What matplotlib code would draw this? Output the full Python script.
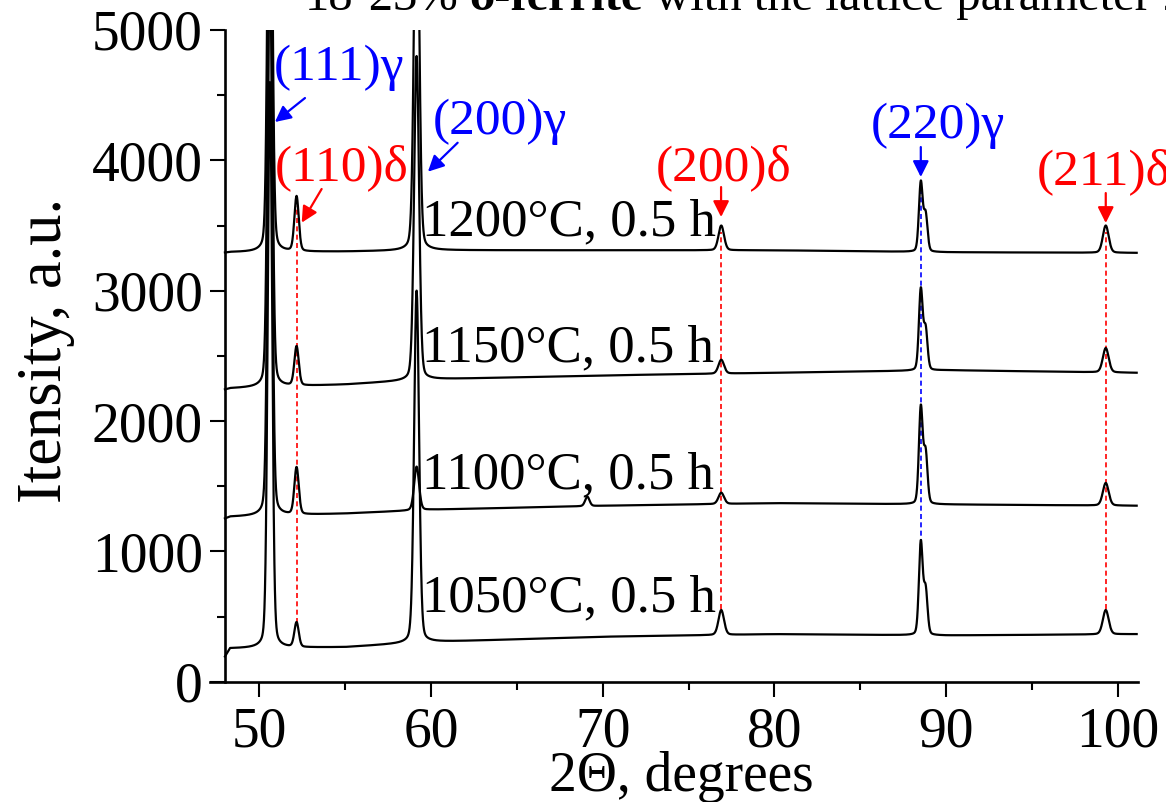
import numpy as np
import matplotlib
matplotlib.use('Agg')
import matplotlib.pyplot as plt

plt.rcParams['font.family'] = ['Liberation Serif', 'DejaVu Serif']

# labels of the four patterns (bottom to top)
temps = ['1050°C, 0.5 h', '1100°C, 0.5 h', '1150°C, 0.5 h', '1200°C, 0.5 h']

# background at these angles
base_x = [48.0, 48.3, 55, 60, 70, 80, 90, 101.1]
base_1050 = [190, 255, 265, 305, 345, 365, 355, 365]
base_1100 = [1250, 1265, 1290, 1320, 1350, 1370, 1360, 1350]
base_1150 = [2240, 2250, 2280, 2320, 2350, 2370, 2390, 2370]
base_1200 = [3290, 3295, 3300, 3310, 3310, 3310, 3295, 3290]

# reflections: (111)g, (110)d, (200)g, (200)d, (220)g, (220)g Ka2 shoulder, (211)d
peak_pos = [50.62, 52.17, 59.16, 76.9, 88.52, 88.8, 99.29]
peak_fwhm = [0.30, 0.30, 0.34, 0.38, 0.26, 0.26, 0.40]
# tip intensities (tips above 5000 are cut by the frame)
tips_1050 = [4600, 450, 3000, 550, 1064, 700, 550]
tips_1100 = [5600, 1640, 1650, 1450, 2100, 1750, 1525]
tips_1150 = [6500, 2568, 4800, 2470, 3005, 2700, 2560]
tips_1200 = [7500, 3719, 6500, 3500, 3826, 3580, 3500]

# weak extra bump on the 1100 pattern
bump_pos = 69.1
bump_tip = 1420

bases = [base_1050, base_1100, base_1150, base_1200]
tips = [tips_1050, tips_1100, tips_1150, tips_1200]

x = np.arange(48.0, 101.1, 0.01)


def profil(x, x0, w, eta=0.2):
    d = (x - x0) / (w / 2)
    return eta / (1 + d ** 2) + (1 - eta) * np.exp(-np.log(2) * d ** 2)


def widmo(baza, szczyty):
    y = np.interp(x, base_x, baza)
    for x0, w, t in zip(peak_pos, peak_fwhm, szczyty):
        y = y + (t - np.interp(x0, base_x, baza)) * profil(x, x0, w)
    return y


W, H = 1166, 802
fig = plt.figure(figsize=(W / 100, H / 100), dpi=100)
ax = fig.add_axes([210 / W, 1 - 681.7 / H, (1137.7 - 210) / W, (681.7 - 30) / H])

for i, (baza, szczyty) in enumerate(zip(bases, tips)):
    y = widmo(baza, szczyty)
    if i == 1:
        y = y + (bump_tip - np.interp(bump_pos, base_x, baza)) * profil(x, bump_pos, 0.3)
    ax.plot(x, y, color='black', lw=1.6, zorder=3)

# dashed guide lines through the peak positions
ax.plot([52.17, 52.17], [450, 3650], color='red', ls=(0, (3, 2)), lw=1.2, zorder=2)
ax.plot([76.9, 76.9], [560, 3450], color='red', ls=(0, (3, 2)), lw=1.2, zorder=2)
ax.plot([99.29, 99.29], [560, 3450], color='red', ls=(0, (3, 2)), lw=1.2, zorder=2)
ax.plot([88.52, 88.52], [1060, 3800], color='blue', ls=(0, (3, 2)), lw=1.2, zorder=2)

# sample labels
label_y = [537, 1486, 2460, 3427]
for t, yy in zip(temps, label_y):
    ax.text(59.47, yy, t, fontsize=38, ha='left', va='baseline', zorder=4)

# reflection labels and arrows
fs = 37
ax.text(54.64, 4708, '(111)γ', color='blue', fontsize=fs, ha='center', va='center')
ax.text(54.79, 3940, '(110)δ', color='red', fontsize=fs, ha='center', va='center')
ax.text(64.0, 4294, '(200)γ', color='blue', fontsize=fs, ha='center', va='center')
ax.text(77.06, 3947, '(200)δ', color='red', fontsize=fs, ha='center', va='center')
ax.text(89.5, 4262, '(220)γ', color='blue', fontsize=fs, ha='center', va='center')
ax.text(95.27, 3909, '(211)δ', color='red', fontsize=fs, ha='left', va='center', clip_on=False)

strzalki = [((50.91, 4294), (52.66, 4478), 'blue'),
            ((52.47, 3522), (53.63, 3780), 'red'),
            ((59.82, 3913), (61.55, 4135), 'blue'),
            ((76.89, 3565), (76.89, 3795), 'red'),
            ((88.52, 3872), (88.52, 4102), 'blue'),
            ((99.29, 3519), (99.29, 3749), 'red')]
for grot, ogon, kolor in strzalki:
    ax.annotate('', xy=grot, xytext=ogon,
                arrowprops=dict(arrowstyle='-|>', color=kolor, lw=1.6,
                                mutation_scale=24, shrinkA=0, shrinkB=0))

ax.set_xlim(47.13, 101.15)
ax.set_ylim(0, 5000)
ax.spines['top'].set_visible(False)
ax.spines['right'].set_visible(False)
ax.spines['left'].set_position(('data', 48))
ax.spines['left'].set_linewidth(1.9)
ax.spines['bottom'].set_linewidth(1.9)

ax.set_xticks([50, 60, 70, 80, 90, 100])
ax.set_xticks([55, 65, 75, 85, 95], minor=True)
ax.set_yticks([0, 1000, 2000, 3000, 4000, 5000])
ax.set_yticks([500, 1500, 2500, 3500, 4500], minor=True)
ax.tick_params(which='major', direction='out', length=10.8, width=1.5, labelsize=40)
ax.tick_params(which='minor', direction='out', length=5.8, width=1.5)
ax.tick_params(axis='x', which='major', pad=7)
ax.tick_params(axis='y', which='major', pad=5)

fig.text(681 / W, 1 - 791 / H, '2Θ, degrees', fontsize=40, ha='center', va='baseline')
fig.text(46 / W, 1 - 350 / H, 'Itensity, a.u.', fontsize=45, ha='center', va='center',
         rotation=90)

# caption line cut by the top edge
yt = 1 - 10 / H
ogon = fig.text(655 / W, yt, 'with the lattice parameter 2', fontsize=35,
                ha='left', va='baseline')
fig.canvas.draw()
gruby = fig.text(643 / W, yt, 'δ-ferrite', fontsize=35, weight='bold',
                 ha='right', va='baseline')
fig.canvas.draw()
bb = gruby.get_window_extent()
fig.text((bb.x0 - 11) / W, yt, '18-23%', fontsize=35, ha='right', va='baseline')

fig.savefig('out.png', dpi=100)
